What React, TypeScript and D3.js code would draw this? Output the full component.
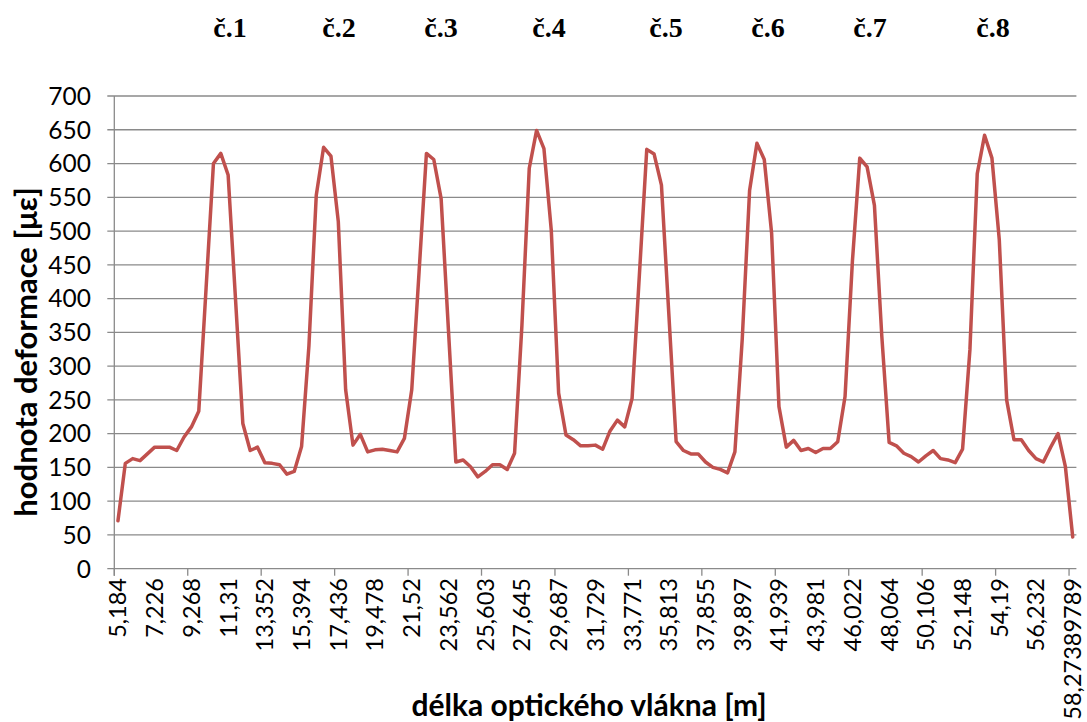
import React from "react";
import * as d3 from "d3";

// deformation values [µε] along the fibre, one per measured category
const strain: number[] = [
  71, 156, 163, 160, 170, 180, 180, 180, 175, 195,
  210, 233, 416, 600, 615, 583, 400, 215, 175, 180,
  157, 156, 154, 140, 144, 181, 330, 553, 624, 611,
  514, 265, 183, 199, 173, 176, 177, 175, 173, 193,
  265, 440, 615, 606, 548, 353, 158, 161, 151, 136,
  144, 154, 154, 147, 171, 360, 593, 649, 622, 501,
  260, 198, 191, 182, 182, 183, 177, 204, 220, 210,
  252, 436, 621, 614, 568, 378, 188, 175, 170, 170,
  158, 150, 147, 142, 173, 340, 560, 630, 606, 497,
  240, 180, 190, 175, 178, 172, 178, 178, 188, 255,
  455, 608, 595, 538, 345, 187, 182, 171, 166, 158,
  167, 175, 163, 161, 157, 177, 324, 585, 642, 608,
  487, 250, 191, 191, 175, 163, 158, 180, 200, 151,
  47,
];

// category labels shown on the x axis (every 5th category)
const xTickLabels: string[] = [
  "5,184", "7,226", "9,268", "11,31", "13,352", "15,394", "17,436", "19,478",
  "21,52", "23,562", "25,603", "27,645", "29,687", "31,729", "33,771", "35,813",
  "37,855", "39,897", "41,939", "43,981", "46,022", "48,064", "50,106", "52,148",
  "54,19", "56,232", "58,27389789",
];

const yTicks: number[] = [0, 50, 100, 150, 200, 250, 300, 350, 400, 450, 500, 550, 600, 650, 700];

const headings: string[] = ["č.1", "č.2", "č.3", "č.4", "č.5", "č.6", "č.7", "č.8"];
const headingX: number[] = [230, 339, 441, 549, 666, 768, 870, 993];

const labelEvery = 5;
const tickEvery = 10;

export default function App() {
  const W = 1087;
  const H = 722;
  const left = 114.3;
  const right = 1076.4;
  const top = 96;
  const bottom = 568.7;

  const idx = d3.range(strain.length);
  const x = d3.scaleBand<number>().domain(idx).range([left, right]).padding(0);
  const y = d3.scaleLinear().domain([0, 700]).range([bottom, top]);
  const bw = x.bandwidth();

  const line = d3
    .line<number>()
    .x((_, i) => (x(i) as number) + bw / 2)
    .y((d) => y(d));

  const grid = "#8a8a8a";
  const tickFont = "Lato, 'Open Sans', sans-serif";

  const boundaryTicks = d3.range(0, strain.length + 1, tickEvery);

  return (
    <svg
      width={W}
      height={H}
      style={{ position: "absolute", left: 0, top: 0, background: "#fff" }}
    >
      <rect x={0} y={0} width={W} height={H} fill="#fff" />
      {/* gridlines */}
      {yTicks.map((t) => (
        <line
          key={"g" + t}
          x1={left - 7}
          x2={right}
          y1={y(t)}
          y2={y(t)}
          stroke={grid}
          strokeWidth={1.3}
        />
      ))}
      {/* y axis line */}
      <line x1={left} x2={left} y1={top} y2={bottom + 7} stroke={grid} strokeWidth={1.3} />
      {/* x axis ticks */}
      {boundaryTicks.map((b) => {
        const px = left + b * bw;
        return (
          <line key={"xt" + b} x1={px} x2={px} y1={bottom} y2={bottom + 7} stroke={grid} strokeWidth={1.3} />
        );
      })}
      {/* y tick labels */}
      {yTicks.map((t) => (
        <text
          key={"yl" + t}
          x={91}
          y={y(t)}
          dy="0.36em"
          textAnchor="end"
          fontFamily={tickFont}
          fontSize={24.5}
          fill="#000"
        >
          {t}
        </text>
      ))}
      {/* x tick labels */}
      {xTickLabels.map((lab, k) => {
        const i = k * labelEvery;
        const px = (x(i) as number) + bw / 2;
        const py = 578;
        return (
          <text
            key={"xl" + k}
            transform={`translate(${px},${py}) rotate(-90)`}
            dy="0.36em"
            textAnchor="end"
            fontFamily={tickFont}
            fontSize={23.5}
            fill="#000"
          >
            {lab}
          </text>
        );
      })}
      {/* data line */}
      <path
        d={line(strain) || ""}
        fill="none"
        stroke="#C0504D"
        strokeWidth={3.5}
        strokeLinejoin="round"
        strokeLinecap="round"
      />
      {/* axis titles */}
      <text
        transform={`translate(37,352) rotate(-90)`}
        textAnchor="middle"
        fontFamily={tickFont}
        fontWeight="bold"
        fontSize={31}
        fill="#000"
      >
        hodnota deformace [με]
      </text>
      <text
        x={589}
        y={716}
        textAnchor="middle"
        fontFamily={tickFont}
        fontWeight="bold"
        fontSize={30}
        fill="#000"
      >
        délka optického vlákna [m]
      </text>
      {/* headings */}
      {headings.map((h, k) => (
        <text
          key={"h" + k}
          x={headingX[k]}
          y={37}
          textAnchor="middle"
          fontFamily="'Liberation Serif', 'Times New Roman', serif"
          fontWeight="bold"
          fontSize={28}
          fill="#000"
        >
          {h}
        </text>
      ))}
    </svg>
  );
}
